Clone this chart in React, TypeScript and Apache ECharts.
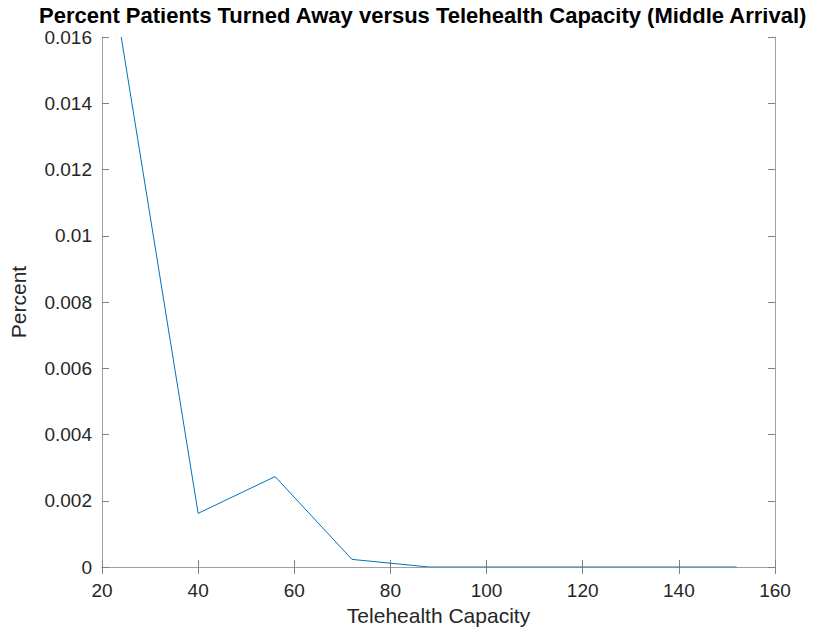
import React, { useEffect, useRef } from "react";
import * as echarts from "echarts";

const capacity = [24, 40, 56, 72, 88, 104, 120, 136, 152];
const percentAway = [0.016, 0.00162, 0.00273, 0.00023, 0, 0, 0, 0, 0];
const titleText = "Percent Patients Turned Away versus Telehealth Capacity (Middle Arrival)";
const xName = "Telehealth Capacity";
const yName = "Percent";

export default function App() {
  const ref = useRef<HTMLDivElement>(null);
  useEffect(() => {
    const chart = echarts.init(ref.current!, null, { renderer: "svg" });
    const font = "Arial, 'Liberation Sans', Helvetica, sans-serif";
    const lineColor = "#a0a0a0";
    const tickColor = "#808080";
    const labelColor = "#262626";
    chart.setOption({
      animation: false,
      backgroundColor: "#ffffff",
      title: {
        text: titleText,
        left: 39,
        top: 4,
        padding: 0,
        textStyle: { fontFamily: font, fontWeight: "bold", fontSize: 22, lineHeight: 22, color: "#000" },
      },
      grid: { left: 100, right: 47, top: 37, bottom: 68, containLabel: false },
      xAxis: [
        {
          type: "value",
          min: 20,
          max: 160,
          interval: 20,
          name: xName,
          nameLocation: "middle",
          nameGap: 29,
          nameTextStyle: { fontFamily: font, fontSize: 21, color: labelColor },
          axisLine: { show: true, lineStyle: { color: lineColor, width: 1 } },
          axisTick: { show: true, inside: true, length: 7, lineStyle: { color: tickColor } },
          axisLabel: { fontFamily: font, fontSize: 19, color: labelColor, margin: 14 },
          splitLine: { show: false },
        },
        {
          type: "value",
          position: "top",
          min: 20,
          max: 160,
          interval: 20,
          axisLine: { show: true, lineStyle: { color: lineColor, width: 1 } },
          axisTick: { show: true, inside: true, length: 7, lineStyle: { color: tickColor } },
          axisLabel: { show: false },
          splitLine: { show: false },
        },
      ],
      yAxis: [
        {
          type: "value",
          min: 0,
          max: 0.016,
          interval: 0.002,
          name: yName,
          nameLocation: "middle",
          nameGap: 73,
          nameTextStyle: { fontFamily: font, fontSize: 21, color: labelColor },
          axisLine: { show: true, lineStyle: { color: lineColor, width: 1 } },
          axisTick: { show: true, inside: true, length: 7, lineStyle: { color: tickColor } },
          axisLabel: {
            fontFamily: font,
            fontSize: 19,
            lineHeight: 19,
            color: labelColor,
            margin: 10,
            formatter: (v: number) => String(parseFloat(v.toFixed(4))),
          },
          splitLine: { show: false },
        },
        {
          type: "value",
          position: "right",
          min: 0,
          max: 0.016,
          interval: 0.002,
          axisLine: { show: true, lineStyle: { color: lineColor, width: 1 } },
          axisTick: { show: true, inside: true, length: 7, lineStyle: { color: tickColor } },
          axisLabel: { show: false },
          splitLine: { show: false },
        },
      ],
      series: [
        {
          type: "line",
          xAxisIndex: 0,
          yAxisIndex: 0,
          data: capacity.map((c, i) => [c, percentAway[i]]),
          showSymbol: false,
          symbol: "none",
          lineStyle: { color: "#0072BD", width: 1 },
          clip: true,
        },
      ],
    });
    return () => chart.dispose();
  }, []);
  return <div ref={ref} style={{ width: 822, height: 635, margin: -8 }} />;
}
